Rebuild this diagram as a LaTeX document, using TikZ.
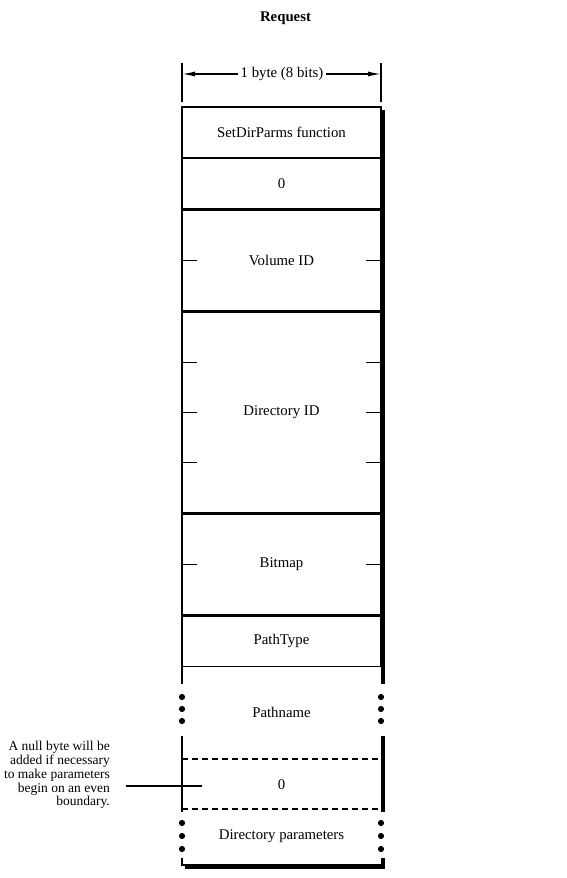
\documentclass[tikz,border=0pt]{standalone}
\usepackage{fontspec}
\setmainfont{Liberation Serif}
\usetikzlibrary{arrows.meta,positioning}

\begin{document}
\begin{tikzpicture}[x=1pt,y=-1pt]
\tikzstyle{every node}=[font=\fontsize{14.8}{17}\selectfont]
\tikzstyle{field}=[draw, line width=1.4pt, minimum width=199pt, inner sep=0pt]
\tikzset{rule/.style={line width=1.4pt}, shadow/.style={line width=4pt}, dimarrow/.style={rule, arrows={-{Latex[length=13pt,width=5pt]}}}}
\useasboundingbox (0,0) rectangle (567,878);
\node [font=\bfseries\fontsize{14.8}{17}\selectfont] (title) at (285.5,18) {Request};
\node [field, minimum height=50.2pt] (fn) at (281.5,132.1) {SetDirParms function};
\node [field, minimum height=50.2pt, below=0pt of fn] (zero) {0};
\node [field, minimum height=100.4pt, below=0pt of zero] (vol) {Volume ID};
\node [field, minimum height=200.8pt, below=0pt of vol] (dir) {Directory ID};
\node [field, minimum height=100.4pt, below=0pt of dir] (bmp) {Bitmap};
\node [field, minimum height=50.2pt, below=0pt of bmp] (ptype) {PathType};
\node (path) at (281.5,712) {Pathname};
\node (pad) at (281.5,785) {0};
\node (dparm) at (281.5,836) {Directory parameters};
\node [anchor=east, align=right, inner sep=0pt, font=\fontsize{13.5}{13.8}\selectfont] (note) at (110,775) {A null byte will be\\added if necessary\\to make parameters\\begin on an even\\boundary.};
\node [inner sep=2pt] (width) at (282,74) {1 byte (8 bits)};
\coordinate (bl) at (182,74);
\coordinate (br) at (381,74);
\coordinate (lead) at (126,786);
\coordinate (padtip) at (202,786);
\draw [rule] (182,63) -- (182,102) (381,63) -- (381,102);
\path (width) edge [dimarrow] (bl);
\path (width) edge [dimarrow] (br);
\foreach \n in {vol,bmp} \draw [rule] (\n.west) -- ++(16,0) (\n.east) -- ++(-16,0);
\foreach \f in {-50.2,0,50.2} \draw [rule] ([yshift=\f pt]dir.west) -- ++(16,0) ([yshift=\f pt]dir.east) -- ++(-16,0);
\draw [rule] (182,659) -- (182,684) (182,736) -- (182,812) (182,858) -- (182,865) -- (381,865);
\draw [rule, dash pattern=on 6pt off 4pt] (182,759) -- (381,759) (182,809) -- (381,809);
\draw [shadow] (383,110) -- (383,684) (383,736) -- (383,812) (383,858) -- (383,867) (185,867) -- (385,867);
\foreach \y in {697,709,721,823,836,849} \fill (182,\y) circle (3.1pt) (381,\y) circle (3.1pt);
\path (lead) edge [rule] (padtip);
\end{tikzpicture}
\end{document}
